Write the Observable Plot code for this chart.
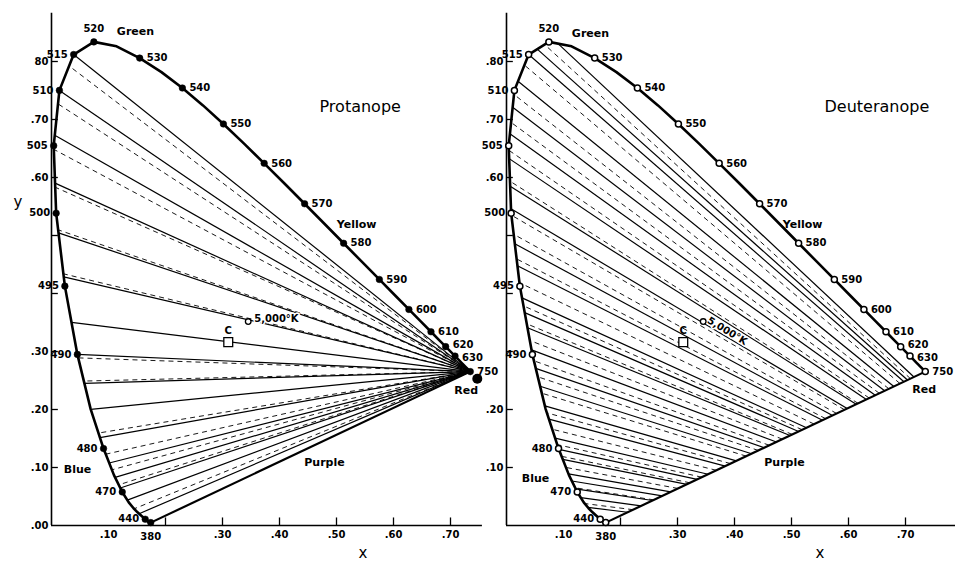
<!DOCTYPE html>
<html>
<head>
<meta charset="utf-8">
<script src="https://cdn.jsdelivr.net/npm/d3@7"></script>
<script src="https://cdn.jsdelivr.net/npm/@observablehq/plot@0.6"></script>
<style>
  html, body { margin: 0; padding: 0; background: #fff; }
  #chart { position: relative; width: 955px; height: 563px; overflow: hidden; background: #fff; }
  #chart svg { position: absolute; top: 0; }
</style>
</head>
<body>
<div id="chart"></div>
<script>
// CIE 1931 spectrum locus (chromaticity x, y) by wavelength in nm
const locusNm = [380,385,390,395,400,405,410,415,420,425,430,435,440,445,450,455,460,465,470,475,480,485,490,495,500,505,510,515,520,525,530,535,540,545,550,555,560,565,570,575,580,585,590,595,600,605,610,615,620,625,630,635,640,645,650,655,660,665,670,675,680,685,690,695,700,750];
const locusX = [0.17411,0.17401,0.17380,0.17356,0.17334,0.17302,0.17258,0.17209,0.17141,0.17030,0.16888,0.16690,0.16441,0.16110,0.15664,0.15099,0.14396,0.13550,0.12412,0.10959,0.09129,0.06871,0.04539,0.02346,0.00817,0.00386,0.01387,0.03885,0.07430,0.11416,0.15472,0.19288,0.22962,0.26578,0.30160,0.33736,0.37310,0.40874,0.44406,0.47877,0.51249,0.54479,0.57515,0.60293,0.62704,0.64823,0.66576,0.68008,0.69150,0.70061,0.70792,0.71403,0.71903,0.72303,0.72599,0.72827,0.72997,0.73109,0.73199,0.73272,0.73342,0.73405,0.73440,0.73460,0.73469,0.73469];
const locusY = [0.00496,0.00498,0.00492,0.00492,0.00480,0.00478,0.00480,0.00483,0.00510,0.00579,0.00690,0.00855,0.01086,0.01379,0.01771,0.02274,0.02970,0.03988,0.05780,0.08684,0.13270,0.20072,0.29498,0.41270,0.53842,0.65482,0.75019,0.81202,0.83380,0.82621,0.80586,0.78163,0.75433,0.72432,0.69231,0.65885,0.62445,0.58961,0.55471,0.52020,0.48659,0.45443,0.42423,0.39650,0.37249,0.35139,0.33401,0.31975,0.30834,0.29930,0.29203,0.28593,0.28093,0.27695,0.27401,0.27173,0.27003,0.26891,0.26801,0.26728,0.26658,0.26595,0.26560,0.26540,0.26531,0.26531];

// wavelengths marked with a dot and a label
const markedNm = [380,440,470,480,490,495,500,505,510,515,520,530,540,550,560,570,580,590,600,610,620,630,750];

// reference points
const illuminantC = [0.3101, 0.3162];
const blackbody5000 = [0.3451, 0.3516];
const protanCopunct = [0.747, 0.253];
const deutanCopunct = [1.08, -0.08];

// protanope confusion lines: a point on each line (near its blue/green end);
// all lines run into the red end of the spectrum
const protanSolidX = [0.0389,0.0139,0.007,0.007,0.011,0.025,0.037,0.0454,0.056,0.067,0.077,0.098,0.112,0.125,0.142,0.160];
const protanSolidY = [0.812,0.750,0.672,0.590,0.505,0.428,0.350,0.295,0.245,0.200,0.150,0.107,0.083,0.066,0.047,0.023];
const protanDashedX = [0.030,0.016,0.007,0.007,0.011,0.025,0.047,0.056,0.080,0.091,0.106,0.124,0.153];
const protanDashedY = [0.793,0.724,0.647,0.583,0.510,0.433,0.289,0.249,0.159,0.122,0.096,0.072,0.032];

// deuteranope confusion lines: a point on each line; lines aim at the deutan copunctal point
const deutanSolidX = [0.089,0.052,0.0389,0.019,0.011,0.005,0.004,0.005,0.008,0.014,0.019,0.026,0.032,0.039,0.046,0.051,0.056,0.065,0.072,0.079,0.084,0.089,0.098,0.107,0.116,0.130,0.144];
const deutanSolidY = [0.832,0.823,0.812,0.767,0.721,0.676,0.633,0.586,0.546,0.486,0.448,0.393,0.367,0.340,0.302,0.271,0.241,0.207,0.184,0.152,0.133,0.116,0.091,0.078,0.064,0.048,0.031];
const deutanDashedX = [0.066,0.030,0.016,0.008,0.004,0.004,0.007,0.011,0.017,0.022,0.029,0.035,0.041,0.048,0.053,0.059,0.068,0.076,0.082,0.088,0.094,0.114,0.136];
const deutanDashedY = [0.830,0.795,0.741,0.695,0.647,0.595,0.536,0.503,0.460,0.419,0.379,0.348,0.319,0.284,0.257,0.229,0.195,0.167,0.141,0.121,0.102,0.066,0.038];

// axis ticks and their printed labels
const leftYTicks = [0, 0.1, 0.2, 0.3, 0.6, 0.7, 0.8];
const leftYText = [".00", ".10", ".20", ".30", ".60", ".70", "80"];
const rightYTicks = [0.1, 0.2, 0.6, 0.7, 0.8];
const rightYText = [".10", ".20", ".60", ".70", ".80"];
const xTickMarks = [0.2, 0.3, 0.4, 0.5, 0.6, 0.7];
const xLabelTicks = [0.1, 0.3, 0.4, 0.5, 0.6, 0.7];
const xLabelText = [".10", ".30", ".40", ".50", ".60", ".70"];

// ---------------------------------------------------------------
const FONT = "DejaVu Sans, Verdana, sans-serif";
const locus = locusNm.map((nm, i) => ({nm, x: locusX[i], y: locusY[i]}));
const byNm = new Map(locus.map(d => [d.nm, d]));
const marked = markedNm.map(nm => byNm.get(nm));
const polygon = locus.map(d => [d.x, d.y]);  // closed by the purple line
const violet = byNm.get(380), red = byNm.get(750);
const purpleMid = {x: (violet.x + red.x) / 2, y: (violet.y + red.y) / 2};

// portion inside the spectrum locus of the line through P and S
function chord(P, S) {
  const dx = S[0] - P[0], dy = S[1] - P[1];
  const ts = [];
  for (let i = 0; i < polygon.length; i++) {
    const A = polygon[i], B = polygon[(i + 1) % polygon.length];
    const ex = B[0] - A[0], ey = B[1] - A[1];
    const den = dx * ey - dy * ex;
    if (Math.abs(den) < 1e-12) continue;
    const wx = A[0] - P[0], wy = A[1] - P[1];
    const t = (wx * ey - wy * ex) / den;
    const u = (wx * dy - wy * dx) / den;
    if (u >= -1e-9 && u <= 1 + 1e-9) ts.push(t);
  }
  const t0 = Math.max(0, d3.min(ts)), t1 = d3.max(ts);
  return {x1: P[0] + t0 * dx, y1: P[1] + t0 * dy, x2: P[0] + t1 * dx, y2: P[1] + t1 * dy};
}
const chords = (xs, ys, P) => xs.map((x, i) => chord(P, [x, ys[i]]));

const redPt = [red.x, red.y];
const protanSolid = chords(protanSolidX, protanSolidY, redPt);
const protanDashed = chords(protanDashedX, protanDashedY, redPt);
const deutanSolid = chords(deutanSolidX, deutanSolidY, deutanCopunct);
const deutanDashed = chords(deutanDashedX, deutanDashedY, deutanCopunct);

const Y_MAX = 525 / 580;
const PX = 570; // pixels per unit of x

function panel(o) {
  const leftSide = marked.filter(d => d.nm > 380 && d.nm < 520);
  const rightSide = marked.filter(d => d.nm > 520 && d.nm !== 620 && d.nm !== 630);
  const top = marked.filter(d => d.nm === 520);
  const bottom = marked.filter(d => d.nm === 380);
  const numStyle = {fontFamily: FONT, fontWeight: "bold", fontSize: 10};
  const tickStyle = {fontFamily: FONT, fontWeight: "bold", fontSize: 10};
  const wordStyle = {fontFamily: FONT, fontWeight: "bold", fontSize: 11};
  const dotStyle = o.open
    ? {r: 3, fill: "white", stroke: "black", strokeWidth: 1.5}
    : {r: 3.3, fill: "black", stroke: "black", strokeWidth: 0.5};

  const d5000 = o.label5000;
  const marks = [
    // confusion lines
    Plot.link(o.solid, {x1: "x1", y1: "y1", x2: "x2", y2: "y2", stroke: "black", strokeWidth: 1.2}),
    Plot.link(o.dashed, {x1: "x1", y1: "y1", x2: "x2", y2: "y2", stroke: "black", strokeWidth: 0.9, strokeDasharray: "5,4"}),
    // spectrum locus and purple line
    Plot.line(locus, {x: "x", y: "y", stroke: "black", strokeWidth: 2.6, strokeLinejoin: "round"}),
    Plot.link([{a: violet, b: red}], {x1: d => d.a.x, y1: d => d.a.y, x2: d => d.b.x, y2: d => d.b.y, stroke: "black", strokeWidth: 2.2}),
    // axes
    Plot.ruleX([0], {y1: 0, y2: 0.883, stroke: "black", strokeWidth: 1.6}),
    Plot.ruleY([0], {x1: 0, x2: o.axisEnd, stroke: "black", strokeWidth: 1.6}),
    Plot.ruleY(d3.range(1, 9).map(k => k / 10), {x1: 0, x2: 0.012, stroke: "black", strokeWidth: 1.3}),
    Plot.ruleX(xTickMarks, {y1: 0, y2: 0.013, stroke: "black", strokeWidth: 1.3}),
    Plot.text(o.yTicks, {x: 0, y: d => d, text: (d, i) => o.yText[i], textAnchor: "end", dx: -3, ...tickStyle}),
    Plot.text(xLabelTicks, {x: d => d, y: 0, text: (d, i) => xLabelText[i], dy: 9, ...tickStyle}),
    Plot.text(["x"], {frameAnchor: "bottom-left", dx: o.xLabelDx, dy: 32, fontFamily: FONT, fontSize: 15}),
    // wavelength dots and labels
    Plot.dot(marked, {x: "x", y: "y", ...dotStyle}),
    Plot.text(leftSide, {x: "x", y: "y", text: d => String(d.nm), textAnchor: "end", dx: -6, ...numStyle}),
    Plot.text(rightSide, {x: "x", y: "y", text: d => String(d.nm), textAnchor: "start", dx: 7, ...numStyle}),
    Plot.text([byNm.get(620)], {x: "x", y: "y", text: d => String(d.nm), textAnchor: "start", dx: 7, dy: -2, ...numStyle}),
    Plot.text([byNm.get(630)], {x: "x", y: "y", text: d => String(d.nm), textAnchor: "start", dx: 7, dy: 2, ...numStyle}),
    Plot.text(top, {x: "x", y: "y", text: d => String(d.nm), dy: -13, ...numStyle}),
    Plot.text(bottom, {x: "x", y: "y", text: d => String(d.nm), dy: 14, ...numStyle}),
    // colour names
    Plot.text([byNm.get(520)], {x: "x", y: "y", text: () => "Green", textAnchor: "start", dx: o.green[0], dy: o.green[1], ...wordStyle}),
    Plot.text([byNm.get(580)], {x: "x", y: "y", text: () => "Yellow", dx: o.yellow[0], dy: o.yellow[1], ...wordStyle}),
    Plot.text([red], {x: "x", y: "y", text: () => "Red", dx: o.red[0], dy: o.red[1], ...wordStyle}),
    Plot.text([purpleMid], {x: "x", y: "y", text: () => "Purple", dx: o.purple[0], dy: o.purple[1], ...wordStyle}),
    Plot.text([byNm.get(480)], {x: "x", y: "y", text: () => "Blue", dx: o.blue[0], dy: o.blue[1], ...wordStyle}),
    // illuminant C and the 5000 K black body
    Plot.text([blackbody5000], {x: d => d[0], y: d => d[1], text: () => "5,000°K", textAnchor: "start",
      dx: d5000.dx, dy: d5000.dy, rotate: d5000.rotate, fontFamily: FONT, fontWeight: "bold", fontSize: 10,
      fill: "black", stroke: "white", strokeWidth: 3, paintOrder: "stroke"}),
    Plot.dot([blackbody5000], {x: d => d[0], y: d => d[1], r: 2.8, fill: "white", stroke: "black", strokeWidth: 1.3}),
    Plot.dot([illuminantC], {x: d => d[0], y: d => d[1], symbol: "square", r: 5, fill: "white", stroke: "black", strokeWidth: 1.3}),
    Plot.text([illuminantC], {x: d => d[0], y: d => d[1], text: () => "C", dy: -11, fontFamily: FONT, fontWeight: "bold", fontSize: 10}),
    // panel title
    Plot.text([o.title], {frameAnchor: "top-left", dx: o.titleDx, dy: 100, fontFamily: FONT, fontSize: 16})
  ];
  if (o.extra) marks.push(...o.extra);

  const svg = Plot.plot({
    width: o.width,
    height: 563,
    marginLeft: 51,
    marginRight: 0,
    marginTop: 0,
    marginBottom: 38,
    x: {domain: [0, (o.width - 51) / PX], axis: null},
    y: {domain: [0, Y_MAX], axis: null},
    style: {background: "transparent", overflow: "visible"},
    marks
  });
  svg.style.left = o.left + "px";
  return svg;
}

const chart = document.getElementById("chart");

chart.append(panel({
  left: 0, width: 507, axisEnd: 0.756, open: false,
  solid: protanSolid, dashed: protanDashed,
  yTicks: leftYTicks, yText: leftYText,
  title: "Protanope", titleDx: 268, xLabelDx: 307,
  green: [23, -10], yellow: [13, -19], red: [-4, 19], purple: [14, 15], blue: [-26, 21],
  label5000: {dx: 6, dy: -3, rotate: 0},
  extra: [
    Plot.dot([protanCopunct], {x: d => d[0], y: d => d[1], r: 5, fill: "black"}),
    Plot.text(["y"], {frameAnchor: "top-left", dx: -38, dy: 196, fontFamily: FONT, fontSize: 15})
  ]
}));

chart.append(panel({
  left: 455, width: 500, axisEnd: 449 / PX, open: true,
  solid: deutanSolid, dashed: deutanDashed,
  yTicks: rightYTicks, yText: rightYText,
  title: "Deuteranope", titleDx: 318, xLabelDx: 309,
  green: [23, -8], yellow: [4, -19], red: [-1, 18], purple: [19, 15], blue: [-23, 30],
  label5000: {dx: 5, dy: -2, rotate: 31}
}));
</script>
</body>
</html>
